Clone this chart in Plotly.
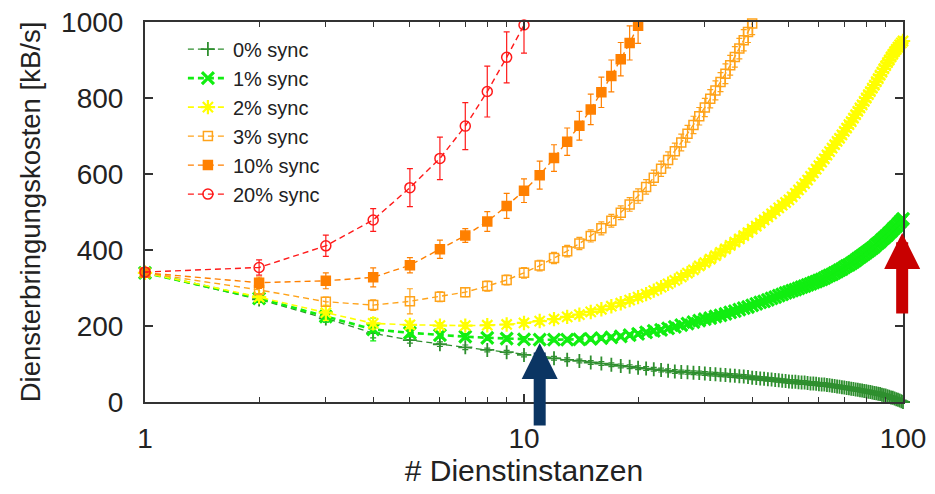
import numpy as np
import plotly.graph_objects as go

# ---------------- data ----------------
instances = list(range(1, 101))

sync0 = [340, 270, 220, 181, 163, 152, 144, 137, 131, 124,
         119, 115, 111, 108, 104, 101, 98, 95, 93, 90,
         88, 86, 84, 82, 80, 79, 78, 77, 76, 75,
         74, 73, 72, 71, 70, 69, 68, 67, 66, 64,
         63, 62, 61, 60, 59, 58, 57, 56, 55, 54,
         53, 53, 52, 51, 51, 50, 49, 49, 48, 47,
         46, 46, 45, 44, 43, 42, 41, 40, 39, 38,
         37, 36, 35, 34, 33, 32, 31, 30, 29, 28,
         27, 26, 25, 24, 23, 22, 21, 19, 18, 17,
         15, 14, 12, 11, 9, 7, 6, 4, 2, 0]

sync1 = [340, 273, 225, 191, 182, 176, 172, 169, 167, 165,
         164, 164, 164, 165, 166, 168, 170, 173, 176, 179,
         183, 187, 190, 194, 198, 202, 206, 210, 214, 218,
         221, 225, 228, 232, 236, 239, 243, 247, 250, 254,
         258, 262, 265, 269, 273, 276, 280, 283, 287, 290,
         293, 296, 299, 302, 305, 308, 311, 314, 317, 320,
         323, 326, 330, 333, 336, 340, 343, 347, 350, 354,
         358, 361, 365, 369, 373, 377, 381, 385, 389, 393,
         397, 401, 405, 409, 414, 418, 422, 427, 431, 436,
         440, 445, 449, 454, 459, 463, 468, 473, 477, 482]

sync2 = [340, 276, 235, 207, 203, 201, 201, 202, 204, 208,
         213, 218, 224, 230, 237, 244, 252, 260, 268, 276,
         284, 293, 302, 311, 320, 329, 339, 348, 358, 367,
         376, 385, 394, 403, 412, 421, 429, 438, 446, 455,
         463, 471, 479, 487, 495, 503, 511, 518, 525, 532,
         540, 549, 558, 566, 575, 584, 594, 603, 613, 622,
         631, 640, 650, 659, 668, 677, 686, 694, 703, 712,
         721, 730, 738, 747, 756, 765, 774, 782, 791, 800,
         809, 817, 826, 834, 843, 851, 860, 868, 877, 885,
         893, 900, 908, 915, 922, 928, 934, 940, 945, 950]

sync3 = [340, 295, 264, 255, 265, 277, 289, 305, 321, 340,
         359, 379, 397, 417, 437, 457, 477, 498, 520, 542,
         566, 590, 614, 637, 660, 683, 706, 729, 752, 775,
         798, 820, 842, 864, 886, 908, 930, 952, 974, 996]

sync10 = [340, 314, 319, 328, 360, 402, 438, 475, 516, 556,
          597, 642, 685, 727, 770, 815, 858, 902, 945, 990]

sync20 = [342, 354, 411, 479, 564, 641, 726, 817, 907, 992]

err0 = [0, 8, 10, 12, 8, 6, 6, 5, 5, 5,
        5, 5, 5, 5, 5, 5, 5, 5, 5, 5,
        5, 5, 5, 5, 5, 5, 5, 5, 5, 5,
        5, 5, 5, 5, 5, 5, 5, 5, 5, 5,
        5, 5, 5, 5, 5, 5, 5, 5, 5, 5,
        5, 5, 5, 5, 5, 5, 5, 5, 5, 5,
        5, 5, 5, 5, 5, 5, 5, 5, 5, 5,
        5, 5, 5, 5, 5, 5, 5, 5, 5, 5,
        5, 5, 5, 5, 5, 5, 5, 5, 5, 5,
        5, 5, 5, 5, 5, 5, 5, 5, 5, 5]

err1 = [0, 8, 15, 30, 10, 8, 8, 7, 7, 7,
        6, 6, 6, 6, 6, 6, 6, 6, 6, 6,
        6, 6, 6, 6, 6, 6, 6, 6, 6, 6,
        6, 6, 6, 6, 6, 6, 6, 6, 6, 6,
        6, 6, 6, 6, 6, 6, 6, 6, 6, 6,
        6, 6, 6, 6, 6, 6, 6, 6, 6, 6,
        6, 6, 6, 6, 6, 6, 6, 6, 6, 6,
        6, 6, 6, 6, 6, 6, 6, 6, 6, 6,
        6, 6, 6, 6, 6, 6, 6, 6, 6, 6,
        6, 6, 6, 6, 6, 6, 6, 6, 6, 6]

err2 = [0, 8, 20, 15, 10, 8, 8, 8, 8, 8,
        8, 8, 8, 8, 8, 8, 8, 8, 8, 8,
        8, 8, 8, 8, 8, 8, 8, 8, 8, 8,
        8, 8, 8, 8, 8, 8, 8, 8, 8, 8,
        8, 8, 8, 8, 8, 8, 8, 8, 8, 8,
        8, 8, 8, 8, 8, 8, 8, 8, 8, 8,
        8, 8, 8, 8, 8, 8, 8, 8, 8, 8,
        8, 8, 8, 8, 8, 8, 8, 8, 8, 8,
        8, 8, 8, 8, 8, 8, 8, 8, 8, 8,
        8, 8, 8, 8, 8, 8, 8, 8, 8, 8]

err3 = [0, 10, 12, 14, 33, 13, 12, 13, 13, 14,
        14, 15, 15, 16, 16, 17, 17, 18, 18, 19,
        19, 20, 20, 21, 21, 22, 22, 23, 23, 24,
        24, 25, 25, 26, 26, 27, 27, 28, 28, 29]

err10 = [0, 15, 21, 25, 20, 24, 18, 26, 33, 31,
         37, 35, 36, 38, 40, 40, 42, 44, 45, 46]

err20 = [0, 20, 28, 30, 50, 56, 62, 67, 67, 74]

labels = ["0% sync", "1% sync", "2% sync", "3% sync", "10% sync", "20% sync"]
x_ticks = [1, 10, 100]
x_minor = [2, 3, 4, 5, 6, 7, 8, 9, 20, 30, 40, 50, 60, 70, 80, 90]
y_ticks = [0, 200, 400, 600, 800, 1000]

# ---------------- styling ----------------
FONT = "Liberation Sans, Arial, sans-serif"
series = [
    (sync0, err0, "#2f8f2f", "cross-thin-open", 10, 1.3, 1.8),
    (sync1, err1, "#11ee11", "x-thin-open", 12, 2.6, 3.2),
    (sync2, err2, "#ffff00", "asterisk-open", 12, 1.6, 2.2),
    (sync3, err3, "#ffa31a", "square-open", 9, 1.4, 1.5),
    (sync10, err10, "#ff8000", "square", 9, 1.4, 1.5),
    (sync20, err20, "#ff1a1a", "circle-open", 10, 1.4, 1.5),
]

fig = go.Figure()
for (vals, err, color, sym, size, lw, mlw), name in zip(series, labels):
    xs = instances[:len(vals)]
    fig.add_trace(go.Scatter(
        x=xs, y=vals, name=name, legendgroup=name,
        mode="lines+markers",
        line=dict(color=color, width=lw, dash="6px,4px"),
        marker=dict(symbol=sym, size=size, color=color,
                    line=dict(color=color, width=mlw)),
        error_y=dict(type="data", array=err, visible=True,
                     color=color, thickness=1.2, width=3),
        cliponaxis=False,
    ))

fig.update_layout(
    width=935, height=494,
    margin=dict(l=145, r=32, t=22, b=92),
    paper_bgcolor="white", plot_bgcolor="white",
    font=dict(family=FONT, color="#222222"),
    showlegend=True,
    legend=dict(x=0.05, y=0.98, xanchor="left", yanchor="top",
                bgcolor="rgba(0,0,0,0)", font=dict(size=20, family=FONT),
                traceorder="normal", itemwidth=40, tracegroupgap=0),
)

fig.update_xaxes(
    type="log", range=[0, 2], automargin=False,
    tickvals=x_ticks, ticktext=[str(v) for v in x_ticks],
    ticks="inside", ticklen=8, tickwidth=1.5, tickcolor="#333333",
    minor=dict(tickvals=x_minor, ticks="inside", ticklen=5,
               tickwidth=1.3, tickcolor="#333333"),
    showline=True, linecolor="#333333", linewidth=2, mirror="ticks",
    showgrid=False, zeroline=False,
    tickfont=dict(size=28, family=FONT), ticklabelstandoff=10,
    title=dict(text="# Dienstinstanzen", font=dict(size=30, family=FONT), standoff=6),
)
fig.update_yaxes(
    range=[0, 1000], tickvals=y_ticks, automargin=False,
    ticks="inside", ticklen=8, tickwidth=1.5, tickcolor="#333333",
    showline=True, linecolor="#333333", linewidth=2, mirror="ticks",
    showgrid=False, zeroline=False,
    tickfont=dict(size=28, family=FONT), ticklabelstandoff=14,
    title=dict(text="Diensterbringungskosten [kB/s]", font=dict(size=27.5, family=FONT), standoff=12),
)

# arrows
fig.add_annotation(x=np.log10(11), y=155, xref="x", yref="y", text="",
                   showarrow=True, ax=0, ay=84, arrowhead=2, arrowsize=0.6,
                   arrowwidth=12, arrowcolor="#0b3563")
fig.add_annotation(x=np.log10(99.5), y=445, xref="x", yref="y", text="",
                   showarrow=True, ax=0, ay=82, arrowhead=2, arrowsize=0.6,
                   arrowwidth=12, arrowcolor="#c80000")

fig.write_html("out.html", config={"displayModeBar": False},
               post_script="document.body.style.margin='0';")
